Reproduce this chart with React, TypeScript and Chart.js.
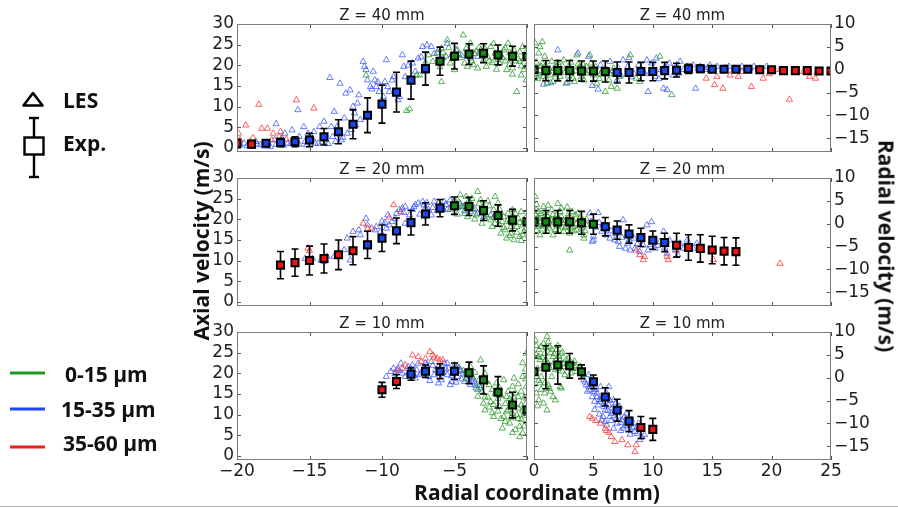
import React, { useEffect, useRef } from "react";
import { Chart, registerables } from "chart.js";

Chart.register(...registerables);

type Pt = [number, number];

// ---------------- tick labels / texts ----------------
const xTicksLeft = [-20, -15, -10, -5, 0];
const xTicksRight = [0, 5, 10, 15, 20, 25];
const yTicksAxial = [0, 5, 10, 15, 20, 25, 30];
const yTicksRadial = [-15, -10, -5, 0, 5, 10];
const panelTitles = ["Z = 40 mm", "Z = 20 mm", "Z = 10 mm"];
const sizeBins = ["0-15 µm", "15-35 µm", "35-60 µm"];
const axialLabel = "Axial velocity (m/s)";
const radialLabel = "Radial velocity (m/s)";
const xLabel = "Radial coordinate (mm)";

// ---------------- experimental data (Exp.) ----------------
// bin: g = 0-15 µm, b = 15-35 µm, r = 35-60 µm
const exp40L_x = [-20, -19, -18, -17, -16, -15, -14, -13, -12, -11, -10, -9, -8, -7, -6, -5, -4, -3, -2, -1, 0];
const exp40L_y = [1.1, 0.9, 1.1, 1.3, 1.5, 1.9, 2.7, 3.9, 5.7, 7.9, 10.6, 13.5, 16.4, 19.2, 21.0, 22.2, 22.7, 22.9, 22.5, 22.2, 22.1];
const exp40L_e = [1.0, 0.8, 0.8, 1.0, 1.2, 1.6, 2.0, 2.9, 3.5, 4.2, 4.6, 4.8, 4.6, 4.0, 3.4, 3.1, 2.5, 2.3, 2.4, 2.4, 2.4];
const exp40L_bin = ["r", "r", "b", "b", "b", "b", "b", "b", "b", "b", "b", "b", "b", "b", "g", "g", "g", "g", "g", "g", "g"];

const exp40R_x = [0, 1, 2, 3, 4, 5, 6, 7, 8, 9, 10, 11, 12, 13, 14, 15, 16, 17, 18, 19, 20, 21, 22, 23, 24, 25];
const exp40R_y = [0.0, -0.2, -0.2, -0.2, -0.3, -0.3, -0.4, -0.6, -0.6, -0.4, -0.4, -0.2, -0.1, 0.2, 0.2, 0.1, 0.1, 0.1, 0.1, 0.0, 0.0, -0.2, -0.2, -0.2, -0.3, -0.3];
const exp40R_e = [2.0, 2.2, 2.2, 2.2, 2.2, 2.2, 2.3, 2.3, 2.3, 2.0, 2.0, 1.8, 1.5, 1.0, 0.8, 0.6, 0.6, 0.6, 0.6, 0.4, 0.4, 0.4, 0.4, 0.4, 0.4, 0.4];
const exp40R_bin = ["g", "g", "g", "g", "g", "g", "g", "b", "b", "b", "b", "b", "b", "b", "b", "b", "b", "b", "b", "r", "r", "r", "r", "r", "r", "r"];

const exp20L_x = [-17, -16, -15, -14, -13, -12, -11, -10, -9, -8, -7, -6, -5, -4, -3, -2, -1, 0];
const exp20L_y = [8.9, 9.5, 10.0, 10.5, 11.4, 12.4, 13.8, 15.4, 17.2, 19.2, 21.3, 22.7, 23.3, 23.1, 22.1, 20.9, 19.8, 19.4];
const exp20L_e = [3.3, 3.3, 3.5, 3.5, 3.6, 3.4, 3.3, 3.2, 3.1, 3.0, 2.7, 2.1, 2.1, 2.2, 2.4, 2.6, 2.6, 2.6];
const exp20L_bin = ["r", "r", "r", "r", "r", "r", "b", "b", "b", "b", "b", "b", "g", "g", "g", "g", "g", "g"];

const exp20R_x = [0, 1, 2, 3, 4, 5, 6, 7, 8, 9, 10, 11, 12, 13, 14, 15, 16, 17];
const exp20R_y = [0.4, 0.4, 0.4, 0.4, 0.2, -0.1, -0.65, -1.4, -2.25, -3.0, -3.6, -4.1, -4.7, -5.2, -5.4, -5.75, -6.0, -6.1];
const exp20R_e = [2.5, 2.5, 2.5, 2.5, 2.5, 2.2, 2.0, 2.0, 2.0, 2.0, 2.0, 2.0, 2.6, 2.8, 3.0, 3.0, 3.0, 3.0];
const exp20R_bin = ["g", "g", "g", "g", "g", "g", "b", "b", "b", "b", "b", "b", "r", "r", "r", "r", "r", "r"];

const exp10L_x = [-10, -9, -8, -7, -6, -5, -4, -3, -2, -1, 0];
const exp10L_y = [16.0, 18.0, 19.8, 20.5, 20.5, 20.5, 20.1, 18.4, 15.4, 12.3, 11.1];
const exp10L_e = [1.8, 1.7, 1.5, 1.5, 1.8, 2.0, 2.6, 3.4, 3.8, 3.1, 3.0];
const exp10L_bin = ["r", "r", "b", "b", "b", "b", "g", "g", "g", "g", "g"];

const exp10R_x = [0, 1, 2, 3, 4, 5, 6, 7, 8, 9, 10];
const exp10R_y = [1.3, 2.3, 2.8, 2.6, 1.3, -0.9, -4.2, -7.1, -9.5, -10.9, -11.3];
const exp10R_e = [3.0, 4.7, 4.2, 2.7, 1.5, 1.5, 2.0, 2.4, 2.3, 2.4, 2.4];
const exp10R_bin = ["g", "g", "g", "g", "g", "b", "b", "b", "b", "r", "r"];

// ---------------- LES data (scattered particles) ----------------
const les40L_g: Pt[] = [[-7.4,17.6],[-5.9,24.1],[-5.5,26.1],[-5.3,20.5],[-5.0,18.9],[-4.8,23.7],[-4.4,27.3],[-4.3,20.5],[-4.1,19.7],[-3.9,25.3],[-3.7,20.1],[-3.4,19.3],[-3.2,23.7],[-3.0,21.3],[-2.8,19.7],[-2.5,24.5],[-2.3,25.3],[-2.2,22.9],[-2.0,21.3],[-1.9,20.5],[-1.6,23.7],[-1.4,18.9],[-1.3,25.3],[-1.1,22.1],[-1.0,19.3],[-0.9,23.7],[-0.7,13.6],[-0.5,20.9],[-0.3,24.5],[-0.2,18.9],[-0.1,22.9],[-0.05,16.4],[-11.1,17.6],[-8.3,9.0],[-8.1,9.4],[-7.6,17.6],[-6.5,20.9],[-5.9,16.0],[-6.8,22.5],[-6.2,23.0],[-4.6,21.8],[-3.6,22.8],[-2.7,22.0],[-1.8,22.5],[-0.6,21.5],[-1.5,21.0],[-3.3,24.3],[-4.0,23.2],[-2.1,19.0],[-0.4,19.8],[-1.2,23.0],[-2.6,21.0],[-5.6,22.2],[-7.0,20.6],[-6.0,19.6],[-5.8,23.0],[-5.4,24.2],[-5.1,21.6],[-4.7,22.6],[-4.2,24.0],[-3.8,21.0],[-3.5,23.4],[-3.1,22.2],[-2.9,24.0],[-2.4,20.6],[-2.0,23.0],[-1.7,21.8],[-1.5,24.2],[-1.2,20.2],[-0.8,21.0],[-0.5,23.2],[-0.2,21.6],[-0.1,19.6],[-0.4,17.6],[-1.0,17.8]];
const les40L_b: Pt[] = [[-19.8,0.7],[-19.5,1.1],[-18.9,0.3],[-18.7,1.5],[-18.4,0.7],[-17.9,1.1],[-17.7,0.3],[-17.4,1.9],[-17.3,5.8],[-16.9,2.3],[-16.7,3.5],[-16.5,1.1],[-16.2,4.3],[-16.0,1.9],[-15.8,9.2],[-15.7,2.7],[-15.4,5.1],[-15.3,1.5],[-15.1,3.5],[-15.0,1.9],[-14.8,2.3],[-14.7,3.9],[-14.4,1.1],[-14.3,5.1],[-14.0,6.4],[-13.9,1.9],[-13.6,17.0],[-13.5,5.1],[-13.4,2.7],[-13.3,8.8],[-13.1,5.1],[-13.0,3.5],[-12.9,15.6],[-12.8,1.9],[-12.6,7.2],[-12.5,13.2],[-12.2,14.0],[-12.0,10.0],[-11.9,8.4],[-11.7,10.8],[-11.6,12.8],[-11.5,6.8],[-11.3,20.9],[-11.2,19.7],[-11.1,18.9],[-11.0,16.4],[-10.8,14.8],[-10.7,14.2],[-10.6,18.5],[-10.5,16.4],[-10.4,14.8],[-10.3,16.0],[-10.2,13.6],[-9.9,12.4],[-9.8,16.0],[-9.7,21.3],[-9.6,14.8],[-9.5,13.6],[-9.3,16.4],[-9.2,17.2],[-8.9,11.6],[-8.8,12.4],[-8.6,22.5],[-8.5,19.7],[-8.4,17.2],[-7.9,20.5],[-7.7,18.5],[-7.5,21.7],[-7.2,24.5],[-7.0,18.5],[-6.9,24.9],[-6.6,24.5],[-6.1,23.7],[-5.5,25.3],[-5.2,22.5],[-4.9,23.7],[-3.9,21.7],[-3.4,22.1],[-3.0,22.5],[-19.3,0.5],[-18.6,0.9],[-18.1,0.4],[-17.3,0.8],[-16.8,0.6],[-16.3,1.0],[-15.7,0.8],[-15.2,0.7],[-14.6,1.0],[-14.1,1.4],[-13.7,1.0],[-13.2,1.5],[-12.7,2.5],[-12.4,3.5],[-12.1,4.4],[-11.8,5.5],[-6.4,22.8],[-5.8,21.8],[-4.5,22.4],[-7.3,22.0],[-8.2,20.0]];
const les40L_r: Pt[] = [[-19.9,3.5],[-19.4,5.5],[-18.5,10.5],[-18.3,4.7],[-17.9,4.7],[-17.5,3.5],[-17.0,3.9],[-17.1,2.7],[-15.9,11.6],[-14.7,9.6],[-19.8,1.9],[-19.1,1.5],[-17.6,1.9],[-18.9,2.4],[-16.6,2.1]];

const les40R_g: Pt[] = [[0.1,5.8],[0.5,5.0],[0.6,0.7],[0.8,-1.5],[0.9,2.9],[1.1,-3.0],[1.2,-0.4],[1.5,1.8],[1.6,-2.6],[1.9,0.7],[2.2,-1.5],[2.5,2.1],[2.7,-3.0],[3.0,0.3],[3.3,-1.9],[3.6,3.2],[3.9,-0.8],[4.2,-2.3],[4.4,0.7],[4.7,3.2],[5.0,-1.2],[5.3,-3.0],[5.7,-0.4],[6.0,-4.8],[6.3,-2.3],[6.5,-3.7],[7.0,-4.1],[7.2,-1.5],[8.1,3.2],[8.6,-1.9],[8.9,-2.6],[10.6,2.9],[11.6,-5.5],[0.7,6.1],[0.4,3.6],[0.05,0.0],[0.2,-0.9],[0.5,-0.2],[0.8,-0.7],[1.3,0.2],[1.8,-1.0],[2.2,-0.3],[2.6,-0.6],[2.9,-1.4],[3.5,-0.3],[3.8,0.5],[4.4,-0.8],[5.0,-0.2],[5.6,-1.0],[6.1,0.0],[6.8,-0.8],[0.3,-2.0],[1.0,1.0],[2.0,1.5],[3.1,1.6],[4.1,1.2],[0.2,1.6],[0.4,-1.2],[0.7,1.4],[1.0,-1.9],[1.4,-1.2],[1.7,0.3],[2.0,-2.2],[2.4,0.8],[2.8,0.2],[3.2,-0.4],[3.4,-2.6],[3.7,1.2],[4.0,-1.6],[4.6,-0.3],[4.8,1.4],[5.2,0.6],[5.5,-2.0],[5.9,-0.5],[6.4,-1.0],[6.7,0.3]];
const les40R_b: Pt[] = [[2.0,4.3],[3.7,3.6],[4.6,2.9],[5.6,1.0],[6.4,1.8],[7.0,-2.3],[7.1,0.3],[7.5,2.1],[7.9,0.7],[8.0,2.6],[8.4,-0.8],[8.8,1.0],[9.2,-0.4],[9.5,2.1],[9.6,-4.8],[9.9,1.4],[10.2,-1.5],[10.3,2.5],[10.7,0.0],[10.9,-4.1],[11.2,-4.4],[11.4,1.4],[11.7,-1.2],[12.0,1.0],[12.3,1.8],[12.6,0.0],[12.9,0.7],[13.1,-0.4],[13.4,1.0],[13.6,-4.1],[14.0,0.7],[14.4,0.0],[14.8,1.0],[15.4,0.7],[15.9,0.0],[16.4,0.7],[16.9,0.3],[17.5,0.7],[17.9,0.3],[18.5,0.7],[19.0,0.3],[19.6,0.7],[6.0,-1.0],[6.6,-0.3],[7.3,-1.2],[8.2,-1.6],[9.0,0.3],[9.7,-0.9],[10.5,-2.0],[11.0,0.6],[12.2,-0.8],[13.0,0.2],[13.8,0.3],[14.6,0.4],[15.1,0.2],[16.1,0.4],[17.2,0.2],[18.2,0.3],[2.8,-2.8],[4.9,-3.5],[5.4,-4.3],[0.8,-3.2],[1.4,-2.9]];
const les40R_r: Pt[] = [[14.5,-1.9],[15.2,-3.3],[15.9,-4.1],[15.4,-1.5],[17.2,-1.5],[17.5,-0.4],[18.3,-3.7],[19.3,-1.9],[21.5,-6.5],[23.2,-1.5],[23.7,-1.9],[23.8,-0.6],[20.1,-0.4],[20.7,0.0],[22.7,-0.4],[16.5,-1.2],[19.8,-0.9],[21.9,-0.2]];

const les20L_g: Pt[] = [[-5.0,24.7],[-4.6,25.9],[-4.2,25.5],[-3.9,23.9],[-3.7,22.3],[-3.4,26.7],[-3.2,24.7],[-3.0,23.1],[-2.8,21.0],[-2.5,19.8],[-2.3,22.3],[-2.2,25.5],[-2.0,23.9],[-1.9,18.6],[-1.6,20.6],[-1.5,17.4],[-1.3,21.4],[-1.2,19.4],[-1.1,16.6],[-1.0,22.3],[-0.7,18.2],[-0.6,20.2],[-0.5,15.8],[-0.4,21.8],[-0.3,18.6],[-0.2,17.0],[-0.05,20.6],[-4.1,20.6],[-4.3,21.4],[-3.1,19.0],[-2.4,18.2],[-1.8,16.6],[-1.4,15.4],[-0.9,15.0],[-4.8,21.2],[-4.5,23.0],[-3.5,21.0],[-2.9,20.2],[-2.6,23.2],[-2.1,21.2],[-1.7,19.4],[-1.0,19.0],[-0.8,21.4],[-0.3,16.2],[-5.3,22.4],[-4.0,24.6],[-4.7,24.2],[-4.3,23.2],[-3.8,25.0],[-3.3,23.8],[-3.0,21.8],[-2.7,24.4],[-2.3,20.4],[-1.9,22.4],[-1.6,18.0],[-1.3,20.0],[-1.1,18.2],[-0.9,20.4],[-0.7,16.8],[-0.5,19.2],[-0.2,19.8],[-0.1,17.8],[-0.4,14.8],[-1.2,16.0],[-2.2,19.0],[-3.6,20.0]];
const les20L_b: Pt[] = [[-15.3,10.5],[-14.8,10.5],[-14.2,10.1],[-13.8,11.0],[-13.3,11.0],[-12.6,12.6],[-12.4,15.4],[-12.2,10.1],[-12.0,17.0],[-11.6,17.4],[-11.5,16.2],[-11.1,20.2],[-11.0,18.6],[-10.5,17.4],[-10.4,18.2],[-10.1,17.0],[-9.7,17.8],[-9.6,21.0],[-9.5,18.6],[-9.3,19.4],[-9.0,21.4],[-8.8,22.3],[-8.6,22.7],[-8.4,23.1],[-8.1,21.0],[-7.9,22.3],[-7.7,23.5],[-7.5,23.9],[-7.2,24.3],[-7.0,22.7],[-6.8,22.3],[-6.6,21.0],[-6.4,24.3],[-6.1,23.9],[-5.9,23.1],[-5.7,24.3],[-5.5,22.3],[-5.2,23.5],[-5.0,24.3],[-4.8,22.7],[-4.4,23.1],[-3.9,21.8],[-3.4,21.4],[-3.0,20.6],[-2.5,21.0],[-8.4,19.0],[-14.0,9.7],[-13.0,12.0],[-10.9,14.0],[-10.0,19.5],[-8.0,19.8],[-7.4,21.2],[-6.9,24.0],[-6.2,22.0],[-5.6,23.6],[-4.6,23.8],[-4.1,22.4],[-3.6,22.6],[-9.8,19.2],[-9.1,20.2],[-8.5,21.6],[-7.8,23.0],[-7.1,23.4],[-6.5,22.8],[-5.8,22.6],[-5.3,24.6],[-4.9,23.4],[-4.3,22.0]];
const les20L_r: Pt[] = [[-15.1,13.0],[-15.0,12.4],[-11.3,19.0],[-11.0,17.8],[-10.7,17.8],[-9.5,20.5],[-9.2,23.5],[-8.7,21.8]];

const les20R_g: Pt[] = [[0.1,5.9],[0.2,3.0],[0.4,-0.6],[0.5,-2.5],[0.8,3.7],[0.9,1.5],[1.1,-1.7],[1.3,0.1],[1.5,3.0],[1.6,-2.5],[1.9,1.9],[2.0,-0.6],[2.3,3.4],[2.5,-1.7],[2.7,0.8],[3.0,-2.1],[3.2,2.6],[3.3,-0.6],[3.5,1.9],[3.6,-1.4],[3.9,0.4],[4.0,-1.0],[4.2,-2.5],[4.4,-0.3],[3.0,-5.8],[3.7,2.3],[4.2,-3.2],[0.3,1.2],[0.6,0.5],[0.7,-1.2],[1.0,2.4],[1.2,-0.5],[1.4,1.0],[1.7,0.6],[1.8,-1.3],[2.1,1.0],[2.2,2.6],[2.4,0.2],[2.6,-0.9],[2.9,1.3],[3.1,0.1],[3.4,-1.6],[3.8,1.0],[0.2,-1.5],[0.6,2.2],[4.4,1.0],[2.8,3.6],[0.1,2.0],[0.3,-0.2],[0.4,2.6],[0.5,1.0],[0.7,-0.5],[0.9,0.2],[1.1,1.8],[1.3,-1.0],[1.5,0.6],[1.6,2.0],[1.9,-0.2],[2.1,-1.5],[2.3,1.6],[2.5,0.6],[2.7,-0.6],[2.9,2.1],[3.1,-1.0],[3.3,0.8],[3.6,0.0],[3.9,-0.4],[4.1,0.8],[4.3,-1.6],[0.2,4.2],[1.2,4.0],[2.0,4.4]];
const les20R_b: Pt[] = [[4.7,2.3],[5.4,2.4],[4.9,-3.9],[5.0,-2.8],[5.7,-1.7],[6.1,-2.5],[6.4,-3.2],[6.8,-3.6],[7.1,-3.9],[7.2,-5.0],[7.5,0.8],[7.7,-5.4],[7.9,-4.3],[8.1,-5.8],[8.5,-5.4],[8.9,-6.1],[9.2,-4.7],[9.5,-0.3],[9.6,-5.8],[9.9,0.4],[10.2,-5.4],[10.6,-3.9],[10.9,-1.7],[11.2,-6.5],[11.4,-3.6],[11.9,-5.8],[12.1,-6.8],[12.3,-4.3],[12.6,-5.4],[12.9,-3.6],[13.1,-5.0],[13.4,-5.4],[13.7,-4.3],[5.8,-0.3],[6.1,-0.6],[7.0,-1.3],[7.8,-2.5],[8.4,-3.2],[5.0,-3.6],[4.8,0.5],[5.2,-0.8],[5.5,0.2],[6.5,-1.6],[6.9,-2.2],[7.4,-3.0],[8.0,-3.6],[8.7,-4.4],[9.1,-3.6],[9.8,-4.6],[10.4,-4.8],[11.0,-5.2]];
const les20R_r: Pt[] = [[8.6,-5.8],[8.9,-6.8],[9.2,-7.9],[9.3,-7.2],[11.2,-7.2],[11.3,-7.9],[15.1,-7.9],[20.7,-8.7],[12.0,-5.8]];

const les10L_g: Pt[] = [[-4.8,21.6],[-4.2,18.8],[-3.9,21.6],[-3.5,16.4],[-3.2,23.2],[-3.1,15.6],[-3.0,12.7],[-2.9,11.1],[-2.8,18.0],[-2.5,13.1],[-2.3,9.5],[-2.2,15.1],[-2.1,17.6],[-1.9,11.9],[-1.7,6.7],[-1.6,9.5],[-1.4,14.3],[-1.3,11.1],[-1.2,7.9],[-1.0,16.8],[-0.9,11.9],[-0.7,9.9],[-0.6,14.3],[-0.5,7.1],[-0.4,12.3],[-0.3,5.5],[-0.2,10.3],[-0.05,16.8],[-0.05,24.8],[-0.3,19.2],[-0.9,18.8],[-1.6,18.4],[-1.1,13.1],[-2.0,13.9],[-2.4,16.0],[-1.5,8.3],[-0.1,21.0],[-0.2,14.0],[-0.4,8.8],[-0.6,11.5],[-0.8,15.2],[-1.0,10.2],[-1.2,13.8],[-1.4,10.8],[-1.8,14.6],[-2.0,10.8],[-2.6,17.2],[-2.7,14.2],[-3.3,18.4],[-3.8,19.2],[-4.4,20.6],[-0.1,12.6],[-0.3,22.5],[-0.6,17.4],[-1.9,16.5],[-2.9,20.0],[-3.6,20.2],[-3.3,17.0],[-2.9,14.2],[-2.6,11.8],[-2.3,12.4],[-2.0,16.2],[-1.8,9.0],[-1.5,12.6],[-1.3,15.6],[-1.1,9.2],[-0.9,14.0],[-0.8,6.4],[-0.6,9.0],[-0.4,15.6],[-0.3,11.0],[-0.2,7.2],[-0.1,18.6],[-0.1,9.8],[-0.5,4.6],[-1.0,5.6],[-2.4,10.4],[-3.4,14.4]];
const les10L_b: Pt[] = [[-9.7,19.2],[-9.4,20.4],[-9.2,21.2],[-8.7,22.4],[-8.4,19.2],[-8.1,20.4],[-7.9,22.0],[-7.7,18.8],[-7.5,22.4],[-7.3,20.0],[-7.0,22.4],[-6.8,19.2],[-6.6,22.8],[-6.4,19.6],[-6.1,21.6],[-5.9,18.4],[-5.7,22.4],[-5.5,19.6],[-5.2,18.0],[-5.0,22.0],[-4.8,19.2],[-4.6,20.8],[-4.3,18.0],[-4.1,19.6],[-3.9,17.2],[-3.7,18.8],[-3.4,16.0],[-3.2,16.4],[-6.1,17.6],[-5.3,17.2],[-8.9,21.0],[-8.2,21.6],[-7.6,20.8],[-7.1,21.2],[-6.9,20.4],[-6.3,20.8],[-5.8,20.2],[-5.4,21.2],[-5.1,20.0],[-4.7,21.4],[-4.4,19.8],[-4.0,18.4],[-3.6,17.6],[-6.7,18.2],[-7.8,19.6],[-8.6,20.0],[-5.6,21.0],[-4.9,17.8],[-9.1,19.8],[-8.8,20.6],[-8.0,21.0],[-7.4,19.6],[-6.9,22.0],[-6.5,21.8],[-6.0,20.6],[-5.5,22.4],[-5.2,19.4],[-4.8,20.4],[-4.5,18.6],[-4.2,20.2],[-3.8,18.0],[-3.5,17.0]];
const les10L_r: Pt[] = [[-8.6,21.2],[-8.4,22.0],[-7.9,24.4],[-7.5,24.0],[-7.0,23.6],[-6.7,25.2],[-6.5,24.4],[-6.2,23.6],[-6.0,23.2],[-5.8,23.2],[-9.0,20.8],[-6.4,23.9],[-7.3,22.8]];

const les10R_g: Pt[] = [[0.1,8.2],[0.4,6.1],[0.5,3.9],[0.8,7.5],[0.9,5.3],[1.1,9.0],[1.2,3.1],[1.3,6.8],[1.5,0.2],[1.6,4.6],[1.8,-4.9],[1.9,6.1],[2.0,2.0],[2.2,-2.0],[2.3,5.3],[2.5,3.1],[2.7,3.9],[3.0,2.4],[3.3,3.1],[3.6,1.3],[3.9,2.4],[4.2,0.6],[0.2,-3.4],[0.4,-4.9],[0.5,-1.2],[0.9,-3.4],[1.1,-7.1],[1.6,-4.2],[2.3,-2.3],[0.6,0.2],[1.2,-1.6],[1.8,1.7],[2.6,0.6],[0.2,5.0],[0.3,2.0],[0.7,4.4],[1.0,6.6],[1.4,5.4],[1.7,3.4],[2.1,4.6],[2.4,1.4],[2.9,4.2],[3.1,1.0],[3.5,2.6],[0.1,0.9],[0.6,-2.6],[1.4,-3.0],[0.3,-6.2],[0.8,-5.6],[0.2,7.0],[0.4,4.6],[0.6,6.8],[0.8,2.6],[1.0,4.0],[1.2,7.8],[1.3,2.2],[1.5,6.2],[1.7,5.2],[1.9,3.0],[2.0,7.0],[2.2,3.8],[2.4,5.6],[2.6,2.4],[2.8,3.0],[3.2,2.0],[3.4,3.6],[3.7,2.0],[4.0,1.4],[0.4,-0.6],[0.9,-1.2],[1.3,-2.4]];
const les10R_b: Pt[] = [[4.2,-0.5],[4.4,-1.6],[4.6,0.6],[4.7,-2.7],[4.9,-4.2],[5.0,-0.9],[5.1,-5.2],[5.3,-3.4],[5.4,-6.0],[5.6,-2.0],[5.7,-4.5],[6.0,-7.1],[6.1,-3.4],[6.3,-6.0],[6.4,-8.5],[6.7,-4.9],[6.8,-7.4],[7.0,-10.0],[7.2,-6.3],[7.4,-9.3],[7.5,-11.1],[7.8,-7.8],[7.9,-10.4],[8.2,-9.3],[8.5,-11.8],[8.8,-10.0],[8.9,-13.6],[9.3,-12.5],[5.7,-9.3],[6.1,-10.4],[6.7,-11.1],[5.8,-8.5],[6.3,-2.0],[4.5,-3.0],[4.8,-1.5],[5.2,-2.6],[5.5,-4.8],[5.9,-5.6],[6.2,-4.4],[6.6,-6.6],[6.9,-5.5],[7.1,-8.4],[7.6,-8.6],[8.0,-9.8],[8.4,-10.8],[6.5,-9.4],[7.3,-11.6],[8.1,-12.4],[4.3,-1.0],[4.6,-1.9],[5.0,-3.0],[5.3,-4.2],[5.6,-5.2],[5.9,-6.4],[6.2,-7.2],[6.5,-7.9],[6.9,-8.9],[7.3,-9.8],[7.7,-10.6],[8.3,-11.0],[8.7,-12.2],[9.1,-13.0],[5.1,-7.0],[5.5,-8.0],[6.0,-9.6],[6.4,-5.0]];
const les10R_r: Pt[] = [[4.7,-8.5],[4.9,-8.9],[5.6,-10.0],[6.0,-11.1],[6.3,-12.0],[6.5,-12.9],[6.8,-14.0],[7.4,-13.6],[7.9,-14.7],[8.5,-16.2],[8.6,-14.7],[5.2,-9.4],[6.1,-11.6]];

// ---------------- styling ----------------
const LES_COLORS: Record<string, string> = {
  g: "rgba(40,150,40,0.85)",
  b: "rgba(45,75,255,0.8)",
  r: "rgba(245,50,50,0.85)",
};
const EXP_COLORS: Record<string, string> = { g: "#138a13", b: "#1848f0", r: "#f01414" };
const TICK_FONT = { family: "'DejaVu Sans', sans-serif", size: 17 };

const PLOT_W = 297;
const PLOT_H = 128;
const ROW_TOPS = [24, 178, 332];
const LEFT_PLOT_X = 237;
const MID_X = 534;
const LEFT_AXIS_W = 47;
const RIGHT_AXIS_W = 55;
const RIGHT_PAD_L = 14;
const TITLE_H = 18;
const XAXIS_H = 26;
const PAD_B = 12;

interface PanelSpec {
  row: number;
  side: "L" | "R";
  expX: number[];
  expY: number[];
  expE: number[];
  expBin: string[];
  les: { g: Pt[]; b: Pt[]; r: Pt[] };
}

const panels: PanelSpec[] = [
  { row: 0, side: "L", expX: exp40L_x, expY: exp40L_y, expE: exp40L_e, expBin: exp40L_bin, les: { g: les40L_g, b: les40L_b, r: les40L_r } },
  { row: 0, side: "R", expX: exp40R_x, expY: exp40R_y, expE: exp40R_e, expBin: exp40R_bin, les: { g: les40R_g, b: les40R_b, r: les40R_r } },
  { row: 1, side: "L", expX: exp20L_x, expY: exp20L_y, expE: exp20L_e, expBin: exp20L_bin, les: { g: les20L_g, b: les20L_b, r: les20L_r } },
  { row: 1, side: "R", expX: exp20R_x, expY: exp20R_y, expE: exp20R_e, expBin: exp20R_bin, les: { g: les20R_g, b: les20R_b, r: les20R_r } },
  { row: 2, side: "L", expX: exp10L_x, expY: exp10L_y, expE: exp10L_e, expBin: exp10L_bin, les: { g: les10L_g, b: les10L_b, r: les10L_r } },
  { row: 2, side: "R", expX: exp10R_x, expY: exp10R_y, expE: exp10R_e, expBin: exp10R_bin, les: { g: les10R_g, b: les10R_b, r: les10R_r } },
];

const fmt = (v: number) => String(v).replace("-", "\u2212");

function geometry(spec: PanelSpec) {
  const bottom = spec.row === 2;
  const left = spec.side === "L" ? LEFT_PLOT_X - LEFT_AXIS_W : MID_X - RIGHT_PAD_L;
  const width = spec.side === "L" ? LEFT_AXIS_W + PLOT_W : RIGHT_PAD_L + PLOT_W + RIGHT_AXIS_W;
  const top = ROW_TOPS[spec.row] - TITLE_H;
  const height = TITLE_H + PLOT_H + (bottom ? XAXIS_H : 0) + PAD_B;
  return { left, top, width, height, bottom };
}

function makeDecorPlugin(xTicks: number[], yTicks: number[]) {
  return {
    id: "panelDecor",
    beforeDatasetDraw(chart: any, args: any) {
      const ds: any = chart.data.datasets[args.index];
      if (!ds.errors) return;
      const { ctx, chartArea: a } = chart;
      const xs = chart.scales.x;
      const ys = chart.scales.y;
      ctx.save();
      ctx.beginPath();
      ctx.rect(a.left, a.top, a.right - a.left, a.bottom - a.top);
      ctx.clip();
      ctx.strokeStyle = "#000";
      ctx.lineWidth = 1.6;
      ds.data.forEach((p: any, i: number) => {
        const e = ds.errors[i];
        const x = xs.getPixelForValue(p.x);
        const y1 = ys.getPixelForValue(p.y - e);
        const y2 = ys.getPixelForValue(p.y + e);
        ctx.beginPath();
        ctx.moveTo(x, y1);
        ctx.lineTo(x, y2);
        ctx.moveTo(x - 3.5, y1);
        ctx.lineTo(x + 3.5, y1);
        ctx.moveTo(x - 3.5, y2);
        ctx.lineTo(x + 3.5, y2);
        ctx.stroke();
      });
      ctx.restore();
    },
    afterDraw(chart: any) {
      const { ctx, chartArea: a } = chart;
      const xs = chart.scales.x;
      const ys = chart.scales.y;
      ctx.save();
      ctx.strokeStyle = "#555";
      ctx.lineWidth = 1;
      ctx.beginPath();
      xTicks.forEach((v) => {
        const x = Math.round(xs.getPixelForValue(v)) + 0.5;
        ctx.moveTo(x, a.bottom);
        ctx.lineTo(x, a.bottom - 4);
        ctx.moveTo(x, a.top);
        ctx.lineTo(x, a.top + 4);
      });
      yTicks.forEach((v) => {
        const y = Math.round(ys.getPixelForValue(v)) + 0.5;
        ctx.moveTo(a.left, y);
        ctx.lineTo(a.left + 4, y);
        ctx.moveTo(a.right, y);
        ctx.lineTo(a.right - 4, y);
      });
      ctx.stroke();
      ctx.strokeStyle = "#7c7c7c";
      ctx.lineWidth = 1;
      ctx.strokeRect(a.left + 0.5, a.top + 0.5, a.right - a.left - 1, a.bottom - a.top - 1);
      ctx.restore();
    },
  };
}

function buildConfig(spec: PanelSpec): any {
  const isL = spec.side === "L";
  const g = geometry(spec);
  const xTicks = isL ? xTicksLeft : xTicksRight;
  const yTicks = isL ? yTicksAxial : yTicksRadial;

  const lesSet = (key: "g" | "b" | "r", order: number) => ({
    type: "scatter",
    label: "LES " + key,
    data: spec.les[key].map(([x, y]) => ({ x, y })),
    pointStyle: "triangle",
    pointRadius: 3.6,
    pointBorderWidth: 0.9,
    pointBackgroundColor: "rgba(0,0,0,0)",
    pointBorderColor: LES_COLORS[key],
    showLine: false,
    order,
  });

  const datasets = [
    {
      type: "scatter",
      label: "Exp.",
      data: spec.expX.map((x, i) => ({ x, y: spec.expY[i] })),
      errors: spec.expE,
      pointStyle: "rect",
      pointRadius: 5,
      pointBorderWidth: 2,
      pointBorderColor: "#000",
      pointBackgroundColor: spec.expBin.map((b) => EXP_COLORS[b]),
      showLine: false,
      order: 0,
    },
    lesSet("b", 3),
    lesSet("r", 2),
    lesSet("g", 1),
  ];

  return {
    type: "scatter",
    data: { datasets },
    plugins: [makeDecorPlugin(xTicks, yTicks)],
    options: {
      responsive: false,
      animation: false,
      devicePixelRatio: 1,
      events: [],
      layout: { padding: { left: isL ? 0 : RIGHT_PAD_L, right: 0, top: 0, bottom: PAD_B } },
      plugins: {
        legend: { display: false },
        tooltip: { enabled: false },
        title: {
          display: true,
          text: panelTitles[spec.row],
          fullSize: false,
          color: "#222",
          font: { family: "'DejaVu Sans', sans-serif", size: 15, weight: "normal", lineHeight: 1 },
          padding: { top: 3, bottom: 0 },
        },
      },
      scales: {
        x: {
          type: "linear",
          min: isL ? -20 : 0,
          max: isL ? 0 : 25,
          display: g.bottom,
          grid: { display: false, drawTicks: false },
          border: { display: false },
          afterBuildTicks: (s: any) => {
            s.ticks = xTicks.map((v) => ({ value: v }));
          },
          afterFit: (s: any) => {
            s.height = g.bottom ? XAXIS_H : 0;
            s.paddingLeft = 0;
            s.paddingRight = 0;
          },
          ticks: {
            font: TICK_FONT,
            color: "#1e1e1e",
            padding: 1,
            autoSkip: false,
            maxRotation: 0,
            callback: (v: number) => (isL && v === 0 ? "" : fmt(v)),
          },
        },
        y: {
          type: "linear",
          position: isL ? "left" : "right",
          min: isL ? -1 : -18,
          max: isL ? 30 : 10,
          grid: { display: false, drawTicks: false },
          border: { display: false },
          afterBuildTicks: (s: any) => {
            s.ticks = yTicks.map((v) => ({ value: v }));
          },
          afterFit: (s: any) => {
            s.width = isL ? LEFT_AXIS_W : RIGHT_AXIS_W;
            s.paddingTop = 0;
            s.paddingBottom = 0;
          },
          ticks: {
            font: TICK_FONT,
            color: "#1e1e1e",
            padding: 3,
            autoSkip: false,
            callback: (v: number) => fmt(v),
          },
        },
      },
    },
  };
}

function Panel({ spec }: { spec: PanelSpec }) {
  const ref = useRef<HTMLCanvasElement>(null);
  const g = geometry(spec);
  useEffect(() => {
    const chart = new Chart(ref.current as HTMLCanvasElement, buildConfig(spec));
    return () => chart.destroy();
  }, []);
  return (
    <canvas
      ref={ref}
      width={g.width}
      height={g.height}
      style={{ position: "absolute", left: g.left, top: g.top, width: g.width, height: g.height }}
    />
  );
}

const boldText: React.CSSProperties = {
  position: "absolute",
  fontFamily: "'Open Sans', sans-serif",
  fontWeight: 700,
  color: "#111",
  whiteSpace: "nowrap",
  lineHeight: 1,
};

export default function App() {
  const legendLineColors = ["#1f9a1f", "#1f45f5", "#f02020"];
  const legendLineY = [373, 409, 447];
  const legendTextX = [65, 61, 63];
  return (
    <div
      style={{
        position: "fixed",
        left: 0,
        top: 0,
        width: 898,
        height: 508,
        background: "#fff",
        overflow: "hidden",
      }}
    >
      {panels.map((p, i) => (
        <Panel key={i} spec={p} />
      ))}

      {/* axis titles */}
      <div
        style={{
          ...boldText,
          fontSize: 21,
          left: 201,
          top: 241,
          transform: "translate(-50%, -50%) rotate(-90deg)",
        }}
      >
        {axialLabel}
      </div>
      <div
        style={{
          ...boldText,
          fontSize: 21,
          left: 886,
          top: 246,
          transform: "translate(-50%, -50%) rotate(90deg)",
        }}
      >
        {radialLabel}
      </div>
      <div
        style={{
          ...boldText,
          fontSize: 21,
          left: 537,
          top: 492,
          transform: "translate(-50%, -50%)",
        }}
      >
        {xLabel}
      </div>

      {/* legend glyphs */}
      <svg width={190} height={508} style={{ position: "absolute", left: 0, top: 0 }}>
        <polygon points="33,93 23.5,105.5 42.5,105.5" fill="none" stroke="#000" strokeWidth={2.6} strokeLinejoin="round" />
        <line x1={34} y1={118} x2={34} y2={177} stroke="#000" strokeWidth={2.4} />
        <line x1={29} y1={118} x2={39} y2={118} stroke="#000" strokeWidth={2.4} />
        <line x1={29} y1={177} x2={39} y2={177} stroke="#000" strokeWidth={2.4} />
        <rect x={24.5} y={137.5} width={19} height={17} fill="#fff" stroke="#000" strokeWidth={2.4} />
        {legendLineColors.map((c, i) => (
          <line key={i} x1={10} y1={legendLineY[i]} x2={45} y2={legendLineY[i]} stroke={c} strokeWidth={3} />
        ))}
      </svg>
      <div style={{ ...boldText, fontSize: 21, left: 63, top: 101 - 11 }}>LES</div>
      <div style={{ ...boldText, fontSize: 21, left: 63, top: 144 - 11 }}>Exp.</div>
      {sizeBins.map((t, i) => (
        <div key={t} style={{ ...boldText, fontSize: 21, left: legendTextX[i], top: [375, 410, 444][i] - 11 }}>
          {t}
        </div>
      ))}

      <div style={{ position: "absolute", left: 0, top: 506, width: 898, height: 1, background: "#b5b5b5" }} />
    </div>
  );
}
